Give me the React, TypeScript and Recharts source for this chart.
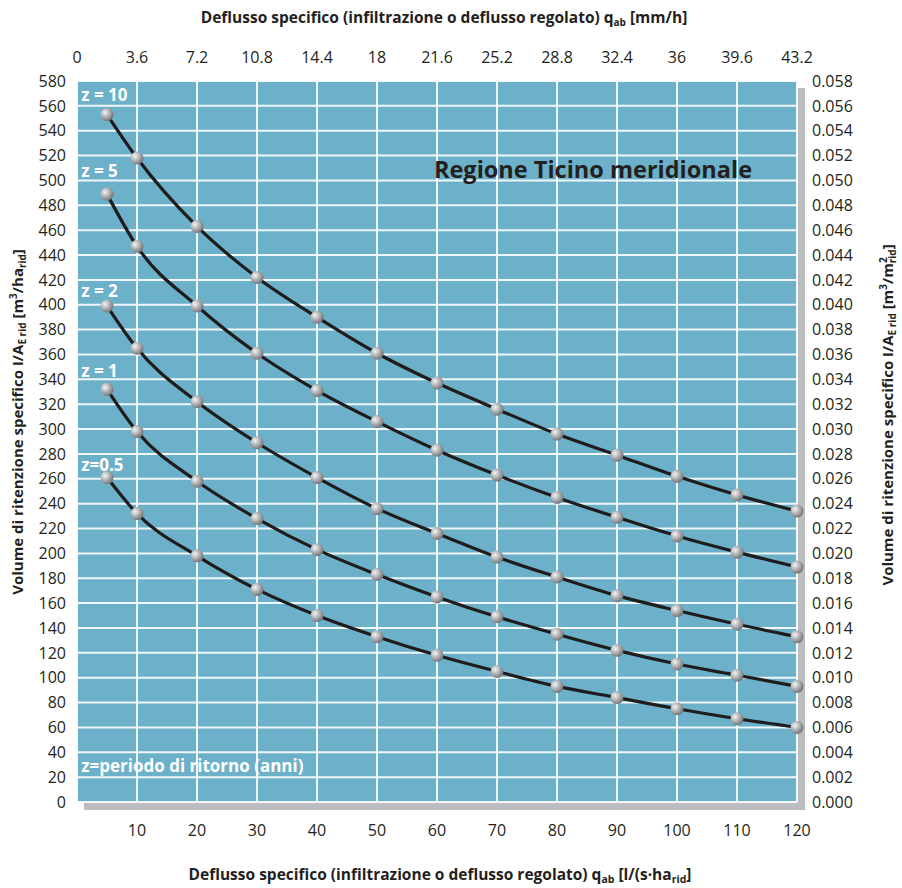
import React from 'react';
import {
  ComposedChart,
  Line,
  XAxis,
  YAxis,
  CartesianGrid,
  ReferenceDot,
} from 'recharts';

// x values: specific discharge q_ab [l/(s·ha_rid)]
const flowValues = [5, 10, 20, 30, 40, 50, 60, 70, 80, 90, 100, 110, 120];

// retention volume [m3/ha_rid] per return period z
const z10 = [553, 518, 463, 422, 390, 361, 337, 316, 296, 279, 262, 247, 234];
const z5 = [489, 447, 399, 361, 331, 306, 283, 263, 245, 229, 214, 201, 189];
const z2 = [399, 365, 322, 289, 261, 236, 216, 197, 181, 166, 154, 143, 133];
const z1 = [332, 298, 258, 228, 203, 183, 165, 149, 135, 122, 111, 102, 93];
const z05 = [261, 232, 198, 171, 150, 133, 118, 105, 93, 84, 75, 67, 60];

const bottomTicks = [10, 20, 30, 40, 50, 60, 70, 80, 90, 100, 110, 120];
// top axis shares the l/(s·ha) scale; labels are the same values in mm/h
const topTicks = [0, 10, 20, 30, 40, 50, 60, 70, 80, 90, 100, 110, 120];
const topTickLabels = ['0', '3.6', '7.2', '10.8', '14.4', '18', '21.6', '25.2', '28.8', '32.4', '36', '39.6', '43.2'];
const leftTicks = [
  0, 20, 40, 60, 80, 100, 120, 140, 160, 180, 200, 220, 240, 260, 280, 300,
  320, 340, 360, 380, 400, 420, 440, 460, 480, 500, 520, 540, 560, 580,
];
// right axis shares the m3/ha scale; labels are the same values in m3/m2
const rightTickLabels = [
  '0.000', '0.002', '0.004', '0.006', '0.008', '0.010', '0.012', '0.014', '0.016', '0.018',
  '0.020', '0.022', '0.024', '0.026', '0.028', '0.030', '0.032', '0.034', '0.036', '0.038',
  '0.040', '0.042', '0.044', '0.046', '0.048', '0.050', '0.052', '0.054', '0.056', '0.058',
];

// curve labels: [text, x, y (baseline)]
const curveLabels: [string, number, number][] = [
  ['z = 10', 0.7, 564],
  ['z = 5', 0.7, 503],
  ['z = 2', 0.7, 406],
  ['z = 1', 0.7, 342],
  ['z=0.5', 0.7, 266],
  ['z=periodo di ritorno (anni)', 0.7, 24],
];

const series = [
  { key: 'z10', values: z10 },
  { key: 'z5', values: z5 },
  { key: 'z2', values: z2 },
  { key: 'z1', values: z1 },
  { key: 'z05', values: z05 },
];

const data = flowValues.map((q, i) => {
  const row: Record<string, number> = { q };
  series.forEach((s) => {
    row[s.key] = s.values[i];
  });
  return row;
});

const FONT = '"Open Sans", "Noto Sans", sans-serif';
const TEXT = '#231f20';
const PLOT_BG = '#6cb0c9';

const Ball = (props: any) => {
  const { cx, cy, index } = props;
  if (cx == null || cy == null) return null;
  return (
    <g key={`b-${index}`}>
      <defs>
        <radialGradient id="ballGrad" cx="35%" cy="35%" r="70%">
          <stop offset="0%" stopColor="#f4f4f4" />
          <stop offset="55%" stopColor="#a9abae" />
          <stop offset="100%" stopColor="#6d6f72" />
        </radialGradient>
      </defs>
      <circle cx={cx} cy={cy} r={6.5} fill="url(#ballGrad)" />
    </g>
  );
};

const TopTitle = ({ viewBox }: any) => {
  const cx = viewBox.x + viewBox.width / 2 + 7;
  return (
    <text x={cx} y={23} textAnchor="middle" fontFamily={FONT} fontWeight="bold" fontSize={15.5} fill={TEXT}>
      Deflusso specifico (infiltrazione o deflusso regolato) q
      <tspan fontSize={10} dy={3}>ab</tspan>
      <tspan dy={-3}> [mm/h]</tspan>
    </text>
  );
};

const BottomTitle = ({ viewBox }: any) => {
  const cx = viewBox.x + viewBox.width / 2 + 3;
  return (
    <text x={cx} y={880} textAnchor="middle" fontFamily={FONT} fontWeight="bold" fontSize={15.5} fill={TEXT}>
      Deflusso specifico (infiltrazione o deflusso regolato) q
      <tspan fontSize={10.5} dy={3}>ab</tspan>
      <tspan dy={-3}> [l/(s·ha</tspan>
      <tspan fontSize={10.5} dy={3}>rid</tspan>
      <tspan dy={-3}>]</tspan>
    </text>
  );
};

const LeftTitle = () => {
  const x = 23;
  const y = 422;
  return (
    <text x={x} y={y} transform={`rotate(-90 ${x} ${y})`} textAnchor="middle" fontFamily={FONT} fontWeight="bold" fontSize={15} fill={TEXT}>
      Volume di ritenzione specifico I/A
      <tspan fontSize={10} dy={3}>E rid</tspan>
      <tspan dy={-3}> [m</tspan>
      <tspan fontSize={10} dy={-6}>3</tspan>
      <tspan dy={6}>/ha</tspan>
      <tspan fontSize={10} dy={3}>rid</tspan>
      <tspan dy={-3}>]</tspan>
    </text>
  );
};

const RightTitle = () => {
  const x = 893;
  const y = 415;
  return (
    <text x={x} y={y} transform={`rotate(-90 ${x} ${y})`} textAnchor="middle" fontFamily={FONT} fontWeight="bold" fontSize={15} fill={TEXT}>
      Volume di ritenzione specifico I/A
      <tspan fontSize={10} dy={3}>E rid</tspan>
      <tspan dy={-3}> [m</tspan>
      <tspan fontSize={10} dy={-6}>3</tspan>
      <tspan dy={6}>/m</tspan>
      <tspan fontSize={10} dy={-6}>2</tspan>
      <tspan fontSize={10} dx={-6} dy={9}>rid</tspan>
      <tspan dy={-3}>]</tspan>
    </text>
  );
};

const curveLabel = (text: string) => (props: any) => {
  const { viewBox } = props;
  return (
    <text x={viewBox.x} y={viewBox.y + viewBox.height / 2} fontFamily={FONT} fontWeight="bold" fontSize={17} fill="#ffffff">
      {text}
    </text>
  );
};

const regionLabel = (props: any) => {
  const { viewBox } = props;
  return (
    <text x={viewBox.x} y={viewBox.y + viewBox.height / 2} textAnchor="middle" fontFamily={FONT} fontWeight="bold" fontSize={23.5} fill={TEXT}>
      Regione Ticino meridionale
    </text>
  );
};

const tickStyle = { fontFamily: FONT, fontSize: 16, fill: TEXT };

export default function App() {
  return (
    <div style={{ position: 'absolute', left: 0, top: 0, width: 902, height: 888, background: '#ffffff' }}>
      {/* drop shadow behind the plot area */}
      <div style={{ position: 'absolute', left: 84, top: 88, width: 721, height: 722, background: '#bcbdc0' }} />
      <div style={{ position: 'absolute', left: 0, top: 0 }}>
        <ComposedChart width={902} height={888} data={data} margin={{ top: 0, right: 0, bottom: 0, left: 0 }}>
          <CartesianGrid xAxisId="bottom" yAxisId="left" fill={PLOT_BG} stroke="#ffffff" strokeWidth={2} strokeOpacity={0.9} />
          <XAxis
            xAxisId="bottom"
            dataKey="q"
            type="number"
            domain={[0, 120]}
            ticks={bottomTicks}
            height={86}
            axisLine={false}
            tickLine={false}
            tickSize={0}
            tickMargin={23}
            tick={tickStyle}
            interval={0}
            label={<BottomTitle />}
          />
          <XAxis
            xAxisId="top"
            dataKey="q"
            orientation="top"
            type="number"
            domain={[0, 120]}
            allowDataOverflow
            ticks={topTicks}
            height={81}
            axisLine={false}
            tickLine={false}
            tickSize={0}
            tickMargin={18}
            tick={tickStyle}
            interval={0}
            tickFormatter={(_v: number, i: number) => topTickLabels[i]}
            label={<TopTitle />}
          />
          <YAxis
            yAxisId="left"
            type="number"
            domain={[0, 580]}
            ticks={leftTicks}
            width={77}
            axisLine={false}
            tickLine={false}
            tickSize={0}
            tickMargin={11}
            tick={tickStyle}
            interval={0}
            label={<LeftTitle />}
          />
          <YAxis
            yAxisId="right"
            orientation="right"
            type="number"
            domain={[0, 580]}
            allowDataOverflow
            ticks={leftTicks}
            width={105}
            axisLine={false}
            tickLine={false}
            tickSize={0}
            tickMargin={15}
            tick={tickStyle}
            interval={0}
            tickFormatter={(_v: number, i: number) => rightTickLabels[i]}
            label={<RightTitle />}
          />
          {series.map((s) => (
            <Line
              key={s.key}
              xAxisId="bottom"
              yAxisId="left"
              dataKey={s.key}
              type="monotone"
              stroke="#1f1c1d"
              strokeWidth={3.2}
              dot={<Ball />}
              activeDot={false}
              isAnimationActive={false}
            />
          ))}
          {curveLabels.map(([text, x, y]) => (
            <ReferenceDot
              key={text}
              xAxisId="bottom"
              yAxisId="left"
              x={x}
              y={y}
              r={0}
              fill="none"
              stroke="none"
              label={curveLabel(text)}
            />
          ))}
          <ReferenceDot
            xAxisId="bottom"
            yAxisId="left"
            x={86}
            y={502}
            r={0}
            fill="none"
            stroke="none"
            label={regionLabel}
          />
        </ComposedChart>
      </div>
    </div>
  );
}
